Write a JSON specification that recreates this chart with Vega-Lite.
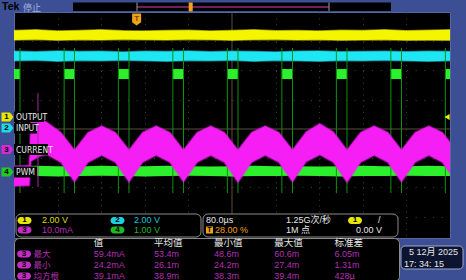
{
  "$schema": "https://vega.github.io/schema/vega-lite/v6.json",
  "background": "#3d4f94",
  "padding": 0,
  "spacing": 0,
  "bounds": "flush",
  "config": {"font": "Liberation Sans", "view": {"stroke": null}, "text": {"baseline": "middle", "align": "left"}},
  "datasets": {
    "traces": [
      {"t": -400, "y1hi": 3.37, "y1lo": 3.04, "y2hi": 2.66, "y2lo": 2.33, "g4hi": -1.27, "g4lo": -1.61},
      {"t": -360, "y1hi": 3.39, "y1lo": 3.06, "y2hi": 2.64, "y2lo": 2.35, "g4hi": -1.26, "g4lo": -1.61},
      {"t": -320, "y1hi": 3.35, "y1lo": 3.03, "y2hi": 2.67, "y2lo": 2.32, "g4hi": -1.27, "g4lo": -1.62},
      {"t": -280, "y1hi": 3.37, "y1lo": 3.05, "y2hi": 2.65, "y2lo": 2.34, "g4hi": -1.28, "g4lo": -1.61},
      {"t": -240, "y1hi": 3.39, "y1lo": 3.04, "y2hi": 2.66, "y2lo": 2.33, "g4hi": -1.26, "g4lo": -1.60},
      {"t": -200, "y1hi": 3.36, "y1lo": 3.06, "y2hi": 2.63, "y2lo": 2.35, "g4hi": -1.27, "g4lo": -1.61},
      {"t": -160, "y1hi": 3.35, "y1lo": 3.05, "y2hi": 2.66, "y2lo": 2.33, "g4hi": -1.27, "g4lo": -1.62},
      {"t": -120, "y1hi": 3.37, "y1lo": 3.04, "y2hi": 2.65, "y2lo": 2.32, "g4hi": -1.26, "g4lo": -1.61},
      {"t": -80, "y1hi": 3.38, "y1lo": 3.06, "y2hi": 2.67, "y2lo": 2.34, "g4hi": -1.27, "g4lo": -1.60},
      {"t": -40, "y1hi": 3.35, "y1lo": 3.05, "y2hi": 2.64, "y2lo": 2.33, "g4hi": -1.28, "g4lo": -1.61},
      {"t": 0, "y1hi": 3.37, "y1lo": 3.03, "y2hi": 2.66, "y2lo": 2.35, "g4hi": -1.27, "g4lo": -1.62},
      {"t": 40, "y1hi": 3.39, "y1lo": 3.05, "y2hi": 2.65, "y2lo": 2.32, "g4hi": -1.26, "g4lo": -1.61},
      {"t": 80, "y1hi": 3.36, "y1lo": 3.06, "y2hi": 2.63, "y2lo": 2.34, "g4hi": -1.27, "g4lo": -1.61},
      {"t": 120, "y1hi": 3.37, "y1lo": 3.04, "y2hi": 2.66, "y2lo": 2.33, "g4hi": -1.27, "g4lo": -1.60},
      {"t": 160, "y1hi": 3.35, "y1lo": 3.05, "y2hi": 2.67, "y2lo": 2.32, "g4hi": -1.28, "g4lo": -1.61},
      {"t": 200, "y1hi": 3.38, "y1lo": 3.03, "y2hi": 2.64, "y2lo": 2.34, "g4hi": -1.27, "g4lo": -1.62},
      {"t": 240, "y1hi": 3.37, "y1lo": 3.04, "y2hi": 2.65, "y2lo": 2.33, "g4hi": -1.26, "g4lo": -1.61},
      {"t": 280, "y1hi": 3.39, "y1lo": 3.05, "y2hi": 2.66, "y2lo": 2.35, "g4hi": -1.27, "g4lo": -1.61},
      {"t": 320, "y1hi": 3.36, "y1lo": 3.03, "y2hi": 2.64, "y2lo": 2.33, "g4hi": -1.27, "g4lo": -1.60},
      {"t": 360, "y1hi": 3.38, "y1lo": 3.04, "y2hi": 2.66, "y2lo": 2.32, "g4hi": -1.26, "g4lo": -1.61},
      {"t": 400, "y1hi": 3.39, "y1lo": 3.03, "y2hi": 2.65, "y2lo": 2.33, "g4hi": -1.27, "g4lo": -1.61}
    ],
    "pulses": [
      {"lead": -408, "trail": -389}, {"lead": -308, "trail": -289}, {"lead": -208.5, "trail": -189},
      {"lead": -108.5, "trail": -89}, {"lead": -8.5, "trail": 11}, {"lead": 91.5, "trail": 111},
      {"lead": 191.5, "trail": 211}, {"lead": 291.5, "trail": 311}, {"lead": 391.5, "trail": 411}
    ],
    "cur": [
      {"t": -400, "hi": -1.27, "lo": -1.95}, {"t": -372, "hi": -1.25, "lo": -1.93},
      {"t": -369, "hi": 0.30, "lo": -1.10}, {"t": -352, "hi": 0.34, "lo": -0.92},
      {"t": -339, "hi": 0.22, "lo": -0.88}, {"t": -314, "hi": -0.12, "lo": -1.14},
      {"t": -289, "hi": -0.72, "lo": -1.80}, {"t": -264, "hi": -0.12, "lo": -1.14},
      {"t": -239, "hi": 0.10, "lo": -0.90}, {"t": -214, "hi": -0.12, "lo": -1.14},
      {"t": -189, "hi": -0.72, "lo": -1.80}, {"t": -164, "hi": -0.12, "lo": -1.14},
      {"t": -139, "hi": 0.10, "lo": -0.90}, {"t": -114, "hi": -0.12, "lo": -1.14},
      {"t": -89, "hi": -0.72, "lo": -1.80}, {"t": -64, "hi": -0.12, "lo": -1.14},
      {"t": -39, "hi": 0.10, "lo": -0.90}, {"t": -14, "hi": -0.12, "lo": -1.14},
      {"t": 11, "hi": -0.72, "lo": -1.82}, {"t": 36, "hi": -0.12, "lo": -1.14},
      {"t": 61, "hi": 0.10, "lo": -0.90}, {"t": 86, "hi": -0.12, "lo": -1.14},
      {"t": 111, "hi": -0.72, "lo": -1.80}, {"t": 136, "hi": -0.10, "lo": -1.12},
      {"t": 161, "hi": 0.18, "lo": -0.88}, {"t": 186, "hi": -0.10, "lo": -1.14},
      {"t": 211, "hi": -0.72, "lo": -1.82}, {"t": 236, "hi": -0.12, "lo": -1.14},
      {"t": 261, "hi": 0.10, "lo": -0.90}, {"t": 286, "hi": -0.12, "lo": -1.14},
      {"t": 311, "hi": -0.72, "lo": -1.80}, {"t": 336, "hi": -0.12, "lo": -1.14},
      {"t": 361, "hi": 0.10, "lo": -0.90}, {"t": 386, "hi": -0.12, "lo": -1.14},
      {"t": 411, "hi": -0.72, "lo": -1.80}
    ],
    "channels": [
      {"ch": "1", "name": "OUTPUT", "gnd": 0.41},
      {"ch": "2", "name": "INPUT", "gnd": 0.034},
      {"ch": "3", "name": "CURRENT", "gnd": -0.701},
      {"ch": "4", "name": "PWM", "gnd": -1.47}
    ],
    "meas": [
      {"stat": "最大", "值": "59.4mA", "平均值": "53.4m", "最小值": "48.6m", "最大值": "60.6m", "标准差": "6.05m"},
      {"stat": "最小", "值": "24.2mA", "平均值": "26.1m", "最小值": "24.2m", "最大值": "27.4m", "标准差": "1.31m"},
      {"stat": "均方根", "值": "39.1mA", "平均值": "38.9m", "最小值": "38.3m", "最大值": "39.4m", "标准差": "428µ"}
    ]
  },
  "vconcat": [
    {
      "width": 436,
      "height": 226,
      "view": {"fill": "#000000", "stroke": "#56679e"},
      "layer": [
        {"data": {"values": [{}]}, "mark": {"type": "rect", "opacity": 0},
         "encoding": {
           "x": {"datum": -423.84, "type": "quantitative", "scale": {"domain": [-400, 400], "nice": false, "zero": false},
                 "axis": {"values": [-320, -240, -160, -80, 80, 160, 240, 320], "grid": true, "gridColor": "#3e3e3e", "gridDash": [1, 4.85], "labels": false, "ticks": false, "domain": false, "title": null}},
           "x2": {"datum": 430.75},
           "y": {"datum": 4.375, "type": "quantitative", "scale": {"domain": [-3.7265, 4], "nice": false, "zero": false},
                 "axis": {"values": [-3, -2, -1, 1, 2, 3], "grid": true, "gridColor": "#3e3e3e", "gridDash": [1, 7.72], "labels": false, "ticks": false, "domain": false, "title": null}},
           "y2": {"datum": -5.19}}},
        {"data": {"values": [{}]}, "mark": {"type": "rule", "color": "#5d4f40", "strokeWidth": 1}, "encoding": {"x": {"datum": 0}}},
        {"data": {"values": [{}]}, "mark": {"type": "rule", "color": "#5d4f40", "strokeWidth": 1}, "encoding": {"y": {"datum": 0}}},
        {"data": {"name": "traces"}, "mark": {"type": "area", "fill": "#f5f500", "stroke": "#f5f500", "strokeWidth": 1.5, "strokeOpacity": 0.55, "clip": true},
         "encoding": {"x": {"field": "t", "type": "quantitative"}, "y": {"field": "y1hi", "type": "quantitative"}, "y2": {"field": "y1lo"}}},
        {"data": {"name": "traces"}, "mark": {"type": "area", "fill": "#1ee6f2", "stroke": "#1ee6f2", "strokeWidth": 1.5, "strokeOpacity": 0.55, "clip": true},
         "encoding": {"x": {"field": "t", "type": "quantitative"}, "y": {"field": "y2hi", "type": "quantitative"}, "y2": {"field": "y2lo"}}},
        {"data": {"name": "traces"}, "mark": {"type": "area", "fill": "#2bf02b", "clip": true},
         "encoding": {"x": {"field": "t", "type": "quantitative"}, "y": {"field": "g4hi", "type": "quantitative"}, "y2": {"field": "g4lo"}}},
        {"data": {"name": "pulses"}, "mark": {"type": "rect", "fill": "#2bf02b", "clip": true},
         "encoding": {"x": {"field": "lead", "type": "quantitative"}, "x2": {"field": "trail"}, "y": {"datum": 2.05}, "y2": {"datum": 1.71}}},
        {"data": {"name": "pulses"}, "transform": [{"fold": ["lead", "trail"], "as": ["edge", "te"]}],
         "mark": {"type": "rule", "color": "#0e930e", "strokeWidth": 1, "clip": true},
         "encoding": {"x": {"field": "te", "type": "quantitative"}, "y": {"datum": 2.77}, "y2": {"datum": -2.19}}},
        {"data": {"name": "cur"}, "mark": {"type": "area", "fill": "#f51ef5", "stroke": "#f51ef5", "strokeWidth": 2, "strokeOpacity": 0.45, "clip": true},
         "encoding": {"x": {"field": "t", "type": "quantitative"}, "y": {"field": "hi", "type": "quantitative"}, "y2": {"field": "lo"}}},
        {"data": {"values": [{}]}, "mark": {"type": "rule", "color": "#a826a8", "strokeWidth": 1},
         "encoding": {"x": {"datum": -356}, "y": {"datum": 1.23}, "y2": {"datum": -1.98}}},
        {"data": {"values": [{}]}, "mark": {"type": "rect", "fill": "#000000"},
         "encoding": {"x": {"datum": -400}, "x2": {"datum": -345}, "y": {"datum": 0.598}, "y2": {"datum": 0.239}}},
        {"data": {"values": [{}]}, "mark": {"type": "rect", "fill": "#000000"},
         "encoding": {"x": {"datum": -400}, "x2": {"datum": -357.8}, "y": {"datum": 0.205}, "y2": {"datum": -0.154}}},
        {"data": {"values": [{}]}, "mark": {"type": "rect", "fill": "#000000"},
         "encoding": {"x": {"datum": -400}, "x2": {"datum": -337.6}, "y": {"datum": -0.513}, "y2": {"datum": -0.889}}},
        {"data": {"values": [{}]}, "mark": {"type": "rect", "fill": "#000000"},
         "encoding": {"x": {"datum": -400}, "x2": {"datum": -357.8}, "y": {"datum": -1.282}, "y2": {"datum": -1.658}}},
        {"data": {"name": "channels"}, "mark": {"type": "text", "font": "Liberation Sans Narrow, DejaVu Sans Condensed, Liberation Sans", "fontSize": 8.5, "color": "#ececec"},
         "encoding": {"x": {"datum": -396.3}, "y": {"field": "gnd", "type": "quantitative"}, "text": {"field": "name"}}},
        {"data": {"name": "channels"}, "mark": {"type": "point", "shape": "M-1,-0.75H0.4L1,0L0.4,0.75H-1Z", "size": 144, "filled": true, "opacity": 1},
         "encoding": {"x": {"datum": -411.9}, "y": {"field": "gnd", "type": "quantitative"},
                      "fill": {"field": "ch", "type": "nominal", "scale": {"domain": ["1", "2", "3", "4"], "range": ["#e6e600", "#1ed8e6", "#d42ad4", "#22c822"]}, "legend": null}}},
        {"data": {"name": "channels"}, "mark": {"type": "text", "fontSize": 8, "fontWeight": "bold", "color": "#000000", "align": "center"},
         "encoding": {"x": {"datum": -413.7}, "y": {"field": "gnd", "type": "quantitative"}, "text": {"field": "ch"}}},
        {"data": {"values": [{}]}, "mark": {"type": "point", "shape": "triangle-left", "size": 36, "filled": true, "color": "#f0f000", "opacity": 1},
         "encoding": {"x": {"datum": 394.6}, "y": {"datum": 0.41}}},
        {"data": {"values": [{}]}, "mark": {"type": "rect", "fill": "#000000"},
         "encoding": {"x": {"datum": -291.7}, "x2": {"datum": 291.7}, "y": {"datum": 4.325}, "y2": {"datum": 4.034}}},
        {"data": {"values": [{}]}, "mark": {"type": "rule", "color": "#6e1f5e", "strokeWidth": 2},
         "encoding": {"x": {"datum": -174.3}, "x2": {"datum": 178}, "y": {"datum": 4.171}}},
        {"data": {"values": [{}]}, "mark": {"type": "rule", "color": "#9c9c9c", "strokeWidth": 1},
         "encoding": {"x": {"datum": -174.3}, "y": {"datum": 4.325}, "y2": {"datum": 4.034}}},
        {"data": {"values": [{}]}, "mark": {"type": "rule", "color": "#9c9c9c", "strokeWidth": 1},
         "encoding": {"x": {"datum": 178}, "y": {"datum": 4.325}, "y2": {"datum": 4.034}}},
        {"data": {"values": [{}]}, "mark": {"type": "point", "shape": "M-0.45,-1H0.45V1H-0.45Z", "size": 81, "filled": true, "color": "#f0a21a", "opacity": 1},
         "encoding": {"x": {"datum": -75.8}, "y": {"datum": 4.171}}},
        {"data": {"values": [{}]}, "mark": {"type": "point", "shape": "M-0.75,-1H0.75V0.45L0,1L-0.75,0.45Z", "size": 144, "filled": true, "color": "#f0a21a", "opacity": 1},
         "encoding": {"x": {"datum": -175}, "y": {"datum": 3.74}}},
        {"data": {"values": [{}]}, "mark": {"type": "text", "fontSize": 8, "fontWeight": "bold", "color": "#7a4800", "align": "center"},
         "encoding": {"x": {"datum": -175}, "y": {"datum": 3.76}, "text": {"value": "T"}}},
        {"data": {"values": [{}]}, "mark": {"type": "text", "fontSize": 10.5, "fontWeight": "bold", "color": "#000000"},
         "encoding": {"x": {"datum": -422}, "y": {"datum": 4.17}, "text": {"value": "Tek"}}},
        {"data": {"values": [{}]}, "mark": {"type": "text", "font": "Noto Sans CJK SC", "fontSize": 9, "color": "#a3b3e3"},
         "encoding": {"x": {"datum": -383.5}, "y": {"datum": 4.15}, "text": {"value": "停止"}}},
        {"data": {"values": [{}]}, "mark": {"type": "rect", "fill": "#000000", "stroke": "#8c8c8c", "strokeWidth": 1, "cornerRadius": 5},
         "encoding": {"x": {"datum": -396.3}, "x2": {"datum": -56.9}, "y": {"datum": -2.906}, "y2": {"datum": -3.692}}},
        {"data": {"values": [{}]}, "mark": {"type": "rect", "fill": "#000000", "stroke": "#8c8c8c", "strokeWidth": 1, "cornerRadius": 5},
         "encoding": {"x": {"datum": -53.2}, "x2": {"datum": 304.6}, "y": {"datum": -2.906}, "y2": {"datum": -3.692}}},
        {"data": {"values": [{}]}, "mark": {"type": "point", "shape": "M-0.5,-0.5H0.5A0.5,0.5,0,0,1,0.5,0.5H-0.5A0.5,0.5,0,0,1,-0.5,-0.5Z", "size": 196, "filled": true, "color": "#e6e600", "opacity": 1},
         "encoding": {"x": {"datum": -380.7}, "y": {"datum": -3.128}}},
        {"data": {"values": [{}]}, "mark": {"type": "text", "fontSize": 8, "fontWeight": "bold", "color": "#000000", "align": "center"},
         "encoding": {"x": {"datum": -380.7}, "y": {"datum": -3.128}, "text": {"value": "1"}}},
        {"data": {"values": [{}]}, "mark": {"type": "text", "fontSize": 9, "color": "#dcdc00"},
         "encoding": {"x": {"datum": -348.6}, "y": {"datum": -3.128}, "text": {"value": "2.00 V"}}},
        {"data": {"values": [{}]}, "mark": {"type": "point", "shape": "M-0.5,-0.5H0.5A0.5,0.5,0,0,1,0.5,0.5H-0.5A0.5,0.5,0,0,1,-0.5,-0.5Z", "size": 196, "filled": true, "color": "#c42cc4", "opacity": 1},
         "encoding": {"x": {"datum": -380.7}, "y": {"datum": -3.453}}},
        {"data": {"values": [{}]}, "mark": {"type": "text", "fontSize": 8, "fontWeight": "bold", "color": "#000000", "align": "center"},
         "encoding": {"x": {"datum": -380.7}, "y": {"datum": -3.453}, "text": {"value": "3"}}},
        {"data": {"values": [{}]}, "mark": {"type": "text", "fontSize": 9, "color": "#b52fb5"},
         "encoding": {"x": {"datum": -348.6}, "y": {"datum": -3.453}, "text": {"value": "10.0mA"}}},
        {"data": {"values": [{}]}, "mark": {"type": "point", "shape": "M-0.5,-0.5H0.5A0.5,0.5,0,0,1,0.5,0.5H-0.5A0.5,0.5,0,0,1,-0.5,-0.5Z", "size": 196, "filled": true, "color": "#1ed0de", "opacity": 1},
         "encoding": {"x": {"datum": -210.1}, "y": {"datum": -3.128}}},
        {"data": {"values": [{}]}, "mark": {"type": "text", "fontSize": 8, "fontWeight": "bold", "color": "#000000", "align": "center"},
         "encoding": {"x": {"datum": -210.1}, "y": {"datum": -3.128}, "text": {"value": "2"}}},
        {"data": {"values": [{}]}, "mark": {"type": "text", "fontSize": 9, "color": "#1ec8d6"},
         "encoding": {"x": {"datum": -179.8}, "y": {"datum": -3.128}, "text": {"value": "2.00 V"}}},
        {"data": {"values": [{}]}, "mark": {"type": "point", "shape": "M-0.5,-0.5H0.5A0.5,0.5,0,0,1,0.5,0.5H-0.5A0.5,0.5,0,0,1,-0.5,-0.5Z", "size": 196, "filled": true, "color": "#22b822", "opacity": 1},
         "encoding": {"x": {"datum": -210.1}, "y": {"datum": -3.453}}},
        {"data": {"values": [{}]}, "mark": {"type": "text", "fontSize": 8, "fontWeight": "bold", "color": "#000000", "align": "center"},
         "encoding": {"x": {"datum": -210.1}, "y": {"datum": -3.453}, "text": {"value": "4"}}},
        {"data": {"values": [{}]}, "mark": {"type": "text", "fontSize": 9, "color": "#22b822"},
         "encoding": {"x": {"datum": -179.8}, "y": {"datum": -3.453}, "text": {"value": "1.00 V"}}},
        {"data": {"values": [{}]}, "mark": {"type": "text", "fontSize": 9, "color": "#e6e6e6"},
         "encoding": {"x": {"datum": -47.7}, "y": {"datum": -3.128}, "text": {"value": "80.0µs"}}},
        {"data": {"values": [{}]}, "mark": {"type": "point", "shape": "square", "size": 49, "filled": true, "color": "#f0a21a", "opacity": 1},
         "encoding": {"x": {"datum": -41.3}, "y": {"datum": -3.453}}},
        {"data": {"values": [{}]}, "mark": {"type": "text", "fontSize": 7, "fontWeight": "bold", "color": "#000000", "align": "center"},
         "encoding": {"x": {"datum": -41.3}, "y": {"datum": -3.453}, "text": {"value": "T"}}},
        {"data": {"values": [{}]}, "mark": {"type": "text", "fontSize": 9, "color": "#f0a21a"},
         "encoding": {"x": {"datum": -31.2}, "y": {"datum": -3.453}, "text": {"value": "28.00 %"}}},
        {"data": {"values": [{}]}, "mark": {"type": "text", "font": "Liberation Sans, Noto Sans CJK SC", "fontSize": 9, "color": "#e6e6e6"},
         "encoding": {"x": {"datum": 99.1}, "y": {"datum": -3.128}, "text": {"value": "1.25G次/秒"}}},
        {"data": {"values": [{}]}, "mark": {"type": "text", "font": "Liberation Sans, Noto Sans CJK SC", "fontSize": 9, "color": "#e6e6e6"},
         "encoding": {"x": {"datum": 99.1}, "y": {"datum": -3.453}, "text": {"value": "1M 点"}}},
        {"data": {"values": [{}]}, "mark": {"type": "point", "shape": "M-0.5,-0.5H0.5A0.5,0.5,0,0,1,0.5,0.5H-0.5A0.5,0.5,0,0,1,-0.5,-0.5Z", "size": 196, "filled": true, "color": "#e6e600", "opacity": 1},
         "encoding": {"x": {"datum": 225.7}, "y": {"datum": -3.128}}},
        {"data": {"values": [{}]}, "mark": {"type": "text", "fontSize": 8, "fontWeight": "bold", "color": "#000000", "align": "center"},
         "encoding": {"x": {"datum": 225.7}, "y": {"datum": -3.128}, "text": {"value": "1"}}},
        {"data": {"values": [{}]}, "mark": {"type": "text", "fontSize": 9, "color": "#e6e6e6"},
         "encoding": {"x": {"datum": 267.9}, "y": {"datum": -3.128}, "text": {"value": "/"}}},
        {"data": {"values": [{}]}, "mark": {"type": "text", "fontSize": 9, "color": "#e6e6e6"},
         "encoding": {"x": {"datum": 227.5}, "y": {"datum": -3.453}, "text": {"value": "0.00 V"}}},
        {"data": {"values": [{}]}, "mark": {"type": "rect", "fill": "#0c1430", "stroke": "#a0a8c8", "strokeWidth": 1, "cornerRadius": 4},
         "encoding": {"x": {"datum": 310.1}, "x2": {"datum": 423.9}, "y": {"datum": -4.0}, "y2": {"datum": -4.786}}},
        {"data": {"values": [{}]}, "mark": {"type": "text", "font": "Liberation Sans, Noto Sans CJK SC", "fontSize": 9, "color": "#e6e6e6"},
         "encoding": {"x": {"datum": 324.8}, "y": {"datum": -4.205}, "text": {"value": "5 12月  2025"}}},
        {"data": {"values": [{}]}, "mark": {"type": "text", "fontSize": 9, "color": "#e6e6e6"},
         "encoding": {"x": {"datum": 315.6}, "y": {"datum": -4.615}, "text": {"value": "17: 34: 15"}}}
      ]
    },
    {
      "width": 385,
      "height": 43,
      "view": {"fill": "#000000", "stroke": "#8c8c8c", "cornerRadius": 5},
      "layer": [
        {"data": {"values": [{"col": "值"}, {"col": "平均值"}, {"col": "最小值"}, {"col": "最大值"}, {"col": "标准差"}]},
         "mark": {"type": "text", "font": "Noto Sans CJK SC", "fontSize": 9.5, "color": "#e6e6e6"},
         "encoding": {
           "x": {"field": "col", "type": "nominal", "scale": {"type": "point", "domain": ["label", "值", "平均值", "最小值", "最大值", "标准差"], "padding": 0.699, "align": 0.2327}, "axis": null},
           "y": {"datum": "hdr", "type": "nominal", "scale": {"type": "point", "domain": ["hdr", "最大", "最小", "均方根"], "padding": 0.4545, "align": 0.5}, "axis": null},
           "text": {"field": "col"}}},
        {"data": {"name": "meas"}, "transform": [{"fold": ["值", "平均值", "最小值", "最大值", "标准差"], "as": ["col", "reading"]}],
         "mark": {"type": "text", "fontSize": 9, "color": "#b52fb5"},
         "encoding": {"x": {"field": "col", "type": "nominal"}, "y": {"field": "stat", "type": "nominal"}, "text": {"field": "reading"}}},
        {"data": {"name": "meas"}, "mark": {"type": "text", "font": "Noto Sans CJK SC", "fontSize": 8.5, "color": "#b52fb5"},
         "encoding": {"x": {"datum": "label", "type": "nominal"}, "y": {"field": "stat", "type": "nominal"}, "text": {"field": "stat"}}},
        {"data": {"name": "meas"}, "mark": {"type": "point", "shape": "M-1.857,-0.5H-0.857A0.5,0.5,0,0,1,-0.857,0.5H-1.857A0.5,0.5,0,0,1,-1.857,-0.5Z", "size": 196, "filled": true, "color": "#c42cc4", "opacity": 1},
         "encoding": {"x": {"datum": "label", "type": "nominal"}, "y": {"field": "stat", "type": "nominal"}}},
        {"data": {"name": "meas"}, "mark": {"type": "text", "fontSize": 8, "fontWeight": "bold", "color": "#000000", "align": "center", "dx": -9.5},
         "encoding": {"x": {"datum": "label", "type": "nominal"}, "y": {"field": "stat", "type": "nominal"}, "text": {"value": "3"}}}
      ]
    }
  ]
}
